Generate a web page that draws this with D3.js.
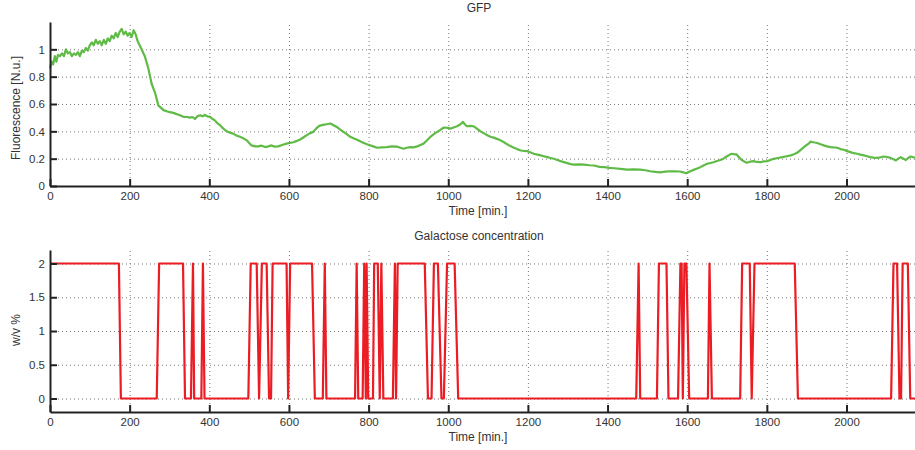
<!DOCTYPE html>
<html>
<head>
<meta charset="utf-8">
<script src="https://cdn.jsdelivr.net/npm/d3@7"></script>
<style>
  body { margin: 0; background: #fff; }
  svg { display: block; font-family: "Liberation Sans", Arial, sans-serif; }
  .tick text { fill: #333; font-size: 11.5px; }
  .axis .domain, .axis .tick line { stroke: #222; stroke-width: 2; }
  .grid .domain { display: none; }
  .grid .tick line { stroke: #777; stroke-width: 1; stroke-dasharray: 1,3; }
  .grid .tick text { display: none; }
  .label { fill: #333; font-size: 12px; }
</style>
</head>
<body>
<svg id="chart" width="915" height="450"></svg>
<script>
// GFP fluorescence trace [N.u.] vs time [min.]
const gfpTime = [0,4,8,12,16,20,25,30,35,40,45,50,55,60,65,70,75,80,85,90,95,100,105,110,115,120,125,130,135,140,145,150,155,160,165,170,175,180,185,190,195,200,205,210,215,220,225,230,238,247,255,264,272,285,295,301,310,318,325,335,345,351,358,364,370,377,383,389,395,402,408,414,420,427,435,444,452,460,468,477,485,494,500,506,515,523,531,540,548,556,564,573,583,594,602,611,620,628,636,644,652,661,668,676,685,695,704,712,720,728,737,745,754,762,771,780,788,796,804,812,821,833,846,858,871,880,888,896,905,913,922,930,938,947,955,963,972,980,989,998,1007,1015,1022,1030,1037,1042,1047,1055,1064,1072,1081,1090,1098,1106,1114,1122,1131,1140,1148,1156,1165,1173,1182,1190,1198,1207,1215,1224,1232,1240,1249,1257,1265,1274,1282,1290,1299,1307,1316,1330,1341,1355,1366,1380,1392,1405,1417,1433,1449,1465,1482,1495,1507,1520,1532,1545,1557,1570,1582,1590,1597,1605,1616,1625,1633,1641,1649,1658,1666,1675,1683,1691,1699,1706,1712,1718,1724,1730,1737,1744,1750,1758,1767,1775,1784,1792,1801,1809,1817,1828,1839,1850,1860,1868,1876,1885,1893,1900,1905,1910,1914,1920,1926,1935,1943,1951,1960,1968,1977,1985,1993,2002,2010,2018,2027,2035,2044,2052,2060,2068,2077,2085,2094,2102,2111,2118,2124,2130,2136,2143,2149,2155,2161,2168,2174];
const gfpValue = [0.86,0.91,0.89,0.95,0.91,0.96,0.95,0.97,0.95,1.0,0.97,0.98,0.95,0.97,0.96,0.98,0.95,0.99,0.98,1.01,0.99,1.03,1.05,1.03,1.07,1.04,1.06,1.03,1.07,1.04,1.08,1.06,1.10,1.08,1.12,1.09,1.13,1.15,1.11,1.13,1.10,1.12,1.09,1.14,1.11,1.06,1.03,1.0,0.95,0.86,0.75,0.68,0.59,0.555,0.545,0.54,0.535,0.526,0.52,0.506,0.505,0.50,0.505,0.49,0.51,0.518,0.51,0.52,0.51,0.506,0.49,0.48,0.46,0.445,0.42,0.40,0.39,0.383,0.37,0.36,0.35,0.334,0.315,0.297,0.29,0.29,0.295,0.285,0.29,0.297,0.288,0.29,0.3,0.31,0.315,0.32,0.33,0.34,0.355,0.37,0.385,0.396,0.42,0.44,0.447,0.452,0.457,0.445,0.432,0.415,0.396,0.38,0.36,0.35,0.339,0.325,0.315,0.305,0.297,0.29,0.28,0.283,0.285,0.29,0.288,0.28,0.273,0.28,0.285,0.283,0.29,0.3,0.31,0.335,0.359,0.378,0.396,0.41,0.428,0.425,0.42,0.43,0.437,0.45,0.469,0.45,0.437,0.44,0.437,0.42,0.40,0.385,0.371,0.36,0.354,0.345,0.334,0.32,0.305,0.292,0.28,0.27,0.26,0.257,0.255,0.245,0.236,0.23,0.224,0.218,0.211,0.205,0.199,0.19,0.182,0.175,0.167,0.16,0.157,0.158,0.157,0.152,0.15,0.14,0.138,0.133,0.13,0.125,0.12,0.122,0.12,0.115,0.108,0.103,0.10,0.105,0.108,0.107,0.106,0.1,0.093,0.105,0.118,0.128,0.138,0.15,0.162,0.168,0.174,0.183,0.19,0.2,0.216,0.228,0.236,0.232,0.231,0.21,0.19,0.178,0.17,0.178,0.182,0.176,0.174,0.18,0.182,0.19,0.199,0.205,0.211,0.218,0.224,0.232,0.243,0.265,0.285,0.3,0.31,0.325,0.322,0.318,0.315,0.305,0.297,0.29,0.285,0.282,0.28,0.27,0.265,0.255,0.248,0.24,0.236,0.23,0.224,0.218,0.211,0.208,0.206,0.21,0.216,0.212,0.206,0.195,0.187,0.2,0.211,0.2,0.19,0.205,0.216,0.21,0.206];

// galactose input, breakpoints [min.] and concentration [w/v %]
const galTime = [0,173,178,268,274,334,339,354,359,362,380,384,388,498,504,519,525,532,544,550,555,559,594,598,603,658,665,685,690,694,766,770,774,785,789,793,795,799,811,814,823,828,832,837,861,866,869,873,941,949,958,964,974,983,989,997,1016,1025,1472,1478,1482,1524,1529,1548,1553,1577,1583,1586,1589,1593,1598,1605,1652,1656,1662,1733,1738,1757,1762,1769,1870,1878,2112,2118,2127,2133,2137,2141,2154,2160,2175];
const galValue = [2,2,0,0,2,2,0,0,2,0,0,2,0,0,2,2,0,2,2,0,0,2,2,0,2,2,0,0,2,0,0,2,0,0,2,0,2,0,0,2,2,0,2,0,0,2,0,2,2,0,0,2,2,0,0,2,2,0,0,2,0,0,2,2,0,0,2,2,0,2,2,0,0,2,0,0,2,2,0,2,2,0,0,2,2,0,0,2,2,0,0];

const xTicks = [0,200,400,600,800,1000,1200,1400,1600,1800,2000];
const gfpTicks = [0,0.2,0.4,0.6,0.8,1];
const galTicks = [0,0.5,1,1.5,2];

const svg = d3.select('#chart');
const left = 50, right = 915;

let x = d3.scaleLinear().domain([0, 2172]).range([left, right]);

function panel(opts) {
  let y = d3.scaleLinear().domain(opts.domain).range([opts.bottom, opts.top]);
  let g = svg.append('g');

  // dotted grid
  g.append('g').attr('class', 'grid')
    .attr('transform', 'translate(0,' + opts.bottom + ')')
    .call(d3.axisBottom(x).tickValues(xTicks.slice(1)).tickSize(-(opts.bottom - opts.top)));
  g.append('g').attr('class', 'grid')
    .attr('transform', 'translate(' + left + ',0)')
    .call(d3.axisLeft(y).tickValues(opts.ticks).tickSize(-(right - left)));

  let line = d3.line().x(d => x(d[0])).y(d => y(d[1]));
  g.append('path')
    .datum(d3.zip(opts.t, opts.v))
    .attr('fill', 'none')
    .attr('stroke', opts.color)
    .attr('stroke-width', opts.width)
    .attr('stroke-linejoin', 'round')
    .attr('d', line);

  // axes, ticks inside
  g.append('g').attr('class', 'axis')
    .attr('transform', 'translate(0,' + opts.bottom + ')')
    .call(d3.axisBottom(x).tickValues(xTicks).tickFormat(d3.format('d'))
      .tickSizeInner(-7).tickSizeOuter(0).tickPadding(6))
    .call(a => a.selectAll('text').attr('dy', '0.71em'));
  g.append('g').attr('class', 'axis')
    .attr('transform', 'translate(' + left + ',0)')
    .call(d3.axisLeft(y).tickValues(opts.ticks).tickFormat(d3.format('~g'))
      .tickSizeInner(-7).tickSizeOuter(0).tickPadding(5));

  svg.append('text').attr('class', 'label')
    .attr('x', 479).attr('y', opts.top - 10)
    .attr('text-anchor', 'middle').text(opts.title);
  svg.append('text').attr('class', 'label')
    .attr('x', 478).attr('y', opts.bottom + 29)
    .attr('text-anchor', 'middle').text('Time [min.]');
  svg.append('text').attr('class', 'label')
    .attr('transform', 'translate(20,' + opts.ylabelY + ') rotate(-90)')
    .attr('text-anchor', 'middle').text(opts.ylabel);
}

panel({
  top: 22, bottom: 186, domain: [0, 1.2], ticks: gfpTicks,
  t: gfpTime, v: gfpValue, color: '#5fbb45', width: 2.2,
  title: 'GFP', ylabel: 'Fluorescence [N.u.]', ylabelY: 108
});

panel({
  top: 250, bottom: 412, domain: [-0.2, 2.2], ticks: galTicks,
  t: galTime, v: galValue, color: '#ec1c24', width: 2.2,
  title: 'Galactose concentration', ylabel: 'w/v %', ylabelY: 330
});
</script>
</body>
</html>
